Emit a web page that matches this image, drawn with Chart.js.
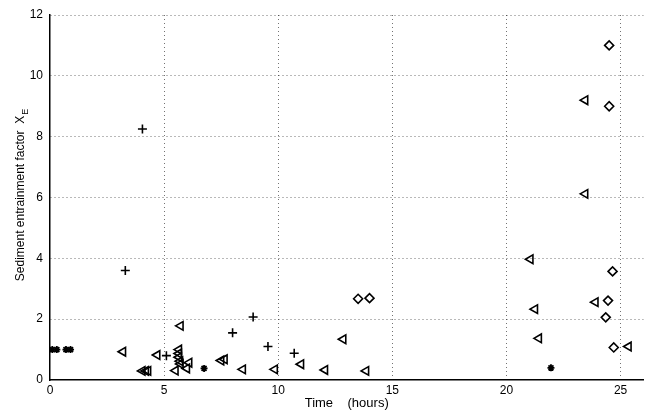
<!DOCTYPE html>
<html lang="en">
<head>
    <meta charset="UTF-8">
    <title>Sediment entrainment factor vs time</title>
    <script src="https://cdn.jsdelivr.net/npm/chart.js"></script>
    <style>
        html, body { margin: 0; padding: 0; background: #fff; }
        #wrap { width: 650px; height: 411px; }
    </style>
</head>
<body>
    <div id="wrap"><canvas id="scatterChart"></canvas></div>

    <script>
        // values: time in hours, X_E
        const starTime = [0.1, 0.3, 0.7, 0.9, 6.75, 21.95];
        const starXE = [1.0, 1.0, 1.0, 1.0, 0.38, 0.4];

        const plusTime = [3.3, 4.05, 5.1, 8.0, 8.9, 9.55, 10.7];
        const plusXE = [3.6, 8.25, 0.8, 1.55, 2.07, 1.1, 0.88];

        const triTime = [3.2, 4.05, 4.2, 4.3, 4.7, 5.5, 5.65, 5.65, 5.65, 5.7, 5.72, 5.72, 6.0, 6.1,
            7.5, 7.65, 8.45, 9.85, 11.0, 12.05, 12.85, 13.85, 21.05, 21.25, 21.42, 23.45, 23.45, 23.9, 25.35];
        const triXE = [0.93, 0.3, 0.3, 0.3, 0.82, 0.31, 1.0, 0.87, 0.75, 0.62, 1.78, 0.53, 0.38, 0.57,
            0.64, 0.68, 0.35, 0.35, 0.52, 0.33, 1.34, 0.3, 3.97, 2.33, 1.37, 9.2, 6.12, 2.56, 1.1];

        const diaTime = [13.5, 14.0, 24.5, 24.5, 24.65, 24.45, 24.35, 24.7];
        const diaXE = [2.67, 2.69, 11.0, 9.0, 3.57, 2.61, 2.06, 1.07];

        const xTicks = [0, 5, 10, 15, 20, 25];
        const yTicks = [0, 2, 4, 6, 8, 10, 12];

        const toPoints = (xs, ys) => xs.map((x, i) => ({ x: x, y: ys[i] }));

        const fontFamily = "'Liberation Sans', Arial, Helvetica, sans-serif";

        // y title with a subscript E
        const yTitlePlugin = {
            id: 'yTitle',
            afterDraw(chart) {
                const ctx = chart.ctx;
                const area = chart.chartArea;
                const main = 'Sediment entrainment factor  X';
                ctx.save();
                ctx.fillStyle = '#000';
                ctx.font = '12px ' + fontFamily;
                const w = ctx.measureText(main).width;
                ctx.font = '9px ' + fontFamily;
                const ws = ctx.measureText('E').width;
                const total = w + ws;
                const cy = (area.top + area.bottom) / 2 - 2;
                ctx.translate(21, cy);
                ctx.rotate(-Math.PI / 2);
                ctx.textBaseline = 'middle';
                ctx.textAlign = 'left';
                ctx.font = '12px ' + fontFamily;
                ctx.fillText(main, -total / 2, 0);
                ctx.font = '9px ' + fontFamily;
                ctx.fillText('E', -total / 2 + w + 1, 5);
                ctx.restore();
            }
        };

        const ctx = document.getElementById('scatterChart').getContext('2d');
        const scatterChart = new Chart(ctx, {
            type: 'scatter',
            data: {
                datasets: [
                    {
                        label: 'star',
                        data: toPoints(starTime, starXE),
                        pointStyle: 'star',
                        pointRadius: 3.5,
                        borderColor: '#000',
                        backgroundColor: '#000',
                        borderWidth: 1.8
                    },
                    {
                        label: 'plus',
                        data: toPoints(plusTime, plusXE),
                        pointStyle: 'cross',
                        pointRadius: 4.5,
                        borderColor: '#000',
                        backgroundColor: '#000',
                        borderWidth: 1.6
                    },
                    {
                        label: 'triangle',
                        data: toPoints(triTime, triXE),
                        pointStyle: 'triangle',
                        rotation: -90,
                        pointRadius: 5,
                        borderColor: '#000',
                        backgroundColor: 'rgba(0,0,0,0)',
                        borderWidth: 1.6
                    },
                    {
                        label: 'diamond',
                        data: toPoints(diaTime, diaXE),
                        pointStyle: 'rectRot',
                        pointRadius: 4.5,
                        borderColor: '#000',
                        backgroundColor: 'rgba(0,0,0,0)',
                        borderWidth: 1.6
                    }
                ]
            },
            options: {
                responsive: true,
                maintainAspectRatio: false,
                animation: false,
                layout: { padding: { left: 0, right: 2, top: 15, bottom: 0 } },
                plugins: {
                    legend: { display: false },
                    tooltip: { enabled: false }
                },
                scales: {
                    x: {
                        type: 'linear',
                        min: 0,
                        max: 26,
                        afterFit: (scale) => { scale.height = 31; },
                        afterBuildTicks: (scale) => { scale.ticks = xTicks.map(v => ({ value: v })); },
                        ticks: {
                            color: '#000',
                            padding: 3,
                            font: { family: fontFamily, size: 12 },
                            maxRotation: 0
                        },
                        grid: {
                            color: (c) => c.tick && c.tick.value === 0 ? 'rgba(0,0,0,0)' : 'rgba(0,0,0,0.55)',
                            tickLength: 0,
                            drawTicks: false
                        },
                        // dash here styles the grid lines, the axis line stays solid
                        border: { display: true, color: '#000', width: 1.5, dash: [1, 3] },
                        title: {
                            display: true,
                            text: 'Time    (hours)',
                            color: '#000',
                            font: { family: fontFamily, size: 13 },
                            padding: 0
                        }
                    },
                    y: {
                        type: 'linear',
                        min: 0,
                        max: 12,
                        afterFit: (scale) => { scale.width = 50; },
                        afterBuildTicks: (scale) => { scale.ticks = yTicks.map(v => ({ value: v })); },
                        ticks: {
                            color: '#000',
                            padding: 7,
                            font: { family: fontFamily, size: 12 }
                        },
                        grid: {
                            color: (c) => c.tick && c.tick.value === 0 ? 'rgba(0,0,0,0)' : 'rgba(0,0,0,0.55)',
                            tickLength: 0,
                            drawTicks: false
                        },
                        border: { display: true, color: '#000', width: 1.5, dash: [1, 3] }
                    }
                }
            },
            plugins: [yTitlePlugin]
        });
    </script>
</body>
</html>
